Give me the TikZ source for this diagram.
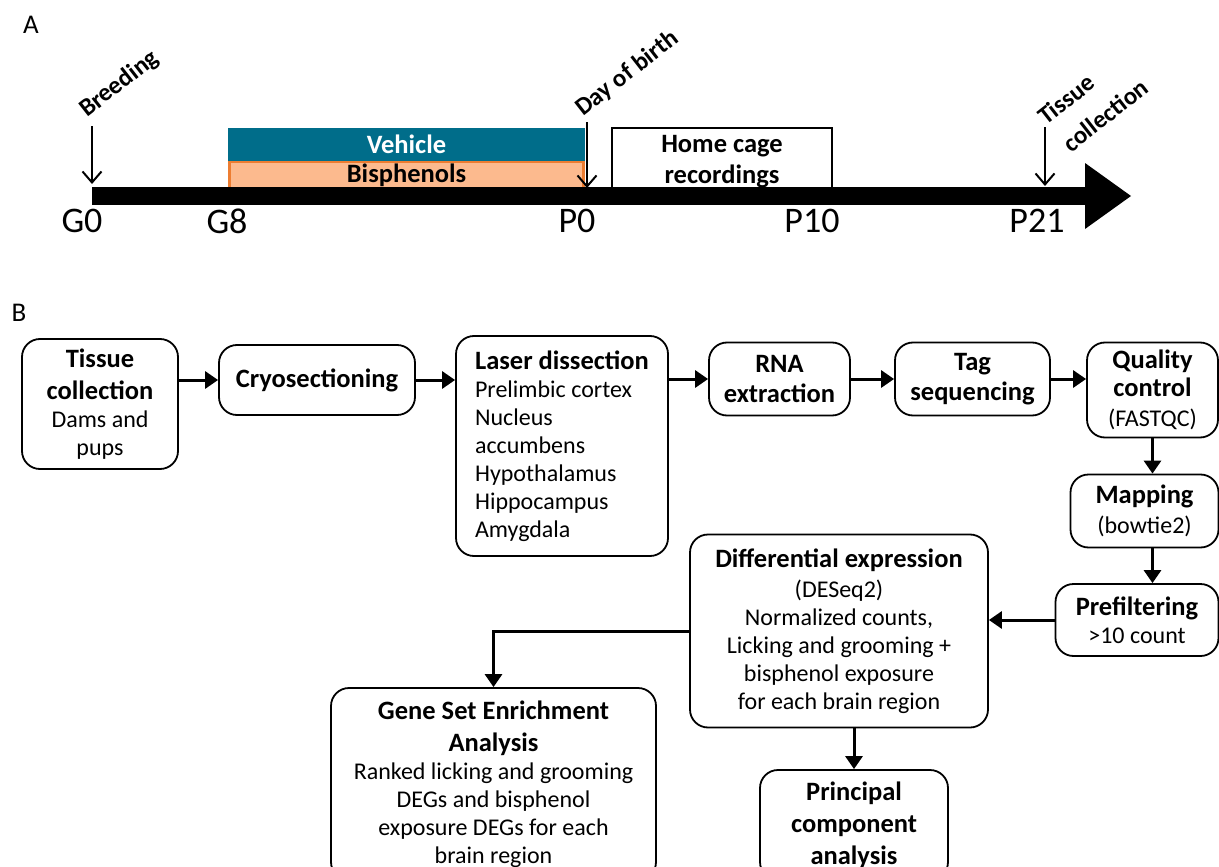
\documentclass[tikz,border=0pt]{standalone}
\usepackage{fontspec}
\setmainfont{Carlito}
\usetikzlibrary{arrows.meta}
\definecolor{vehteal}{RGB}{0,109,138}
\definecolor{bispeach}{RGB}{252,186,142}
\definecolor{bisorange}{RGB}{237,125,49}
\newcommand{\fsn}{\fontsize{24}{28}\selectfont}
\newcommand{\fsb}{\fontsize{26.5}{28}\selectfont\bfseries}
\newcommand{\bt}[1]{{\fsb #1}}
\newcommand{\fstick}{\fontsize{36}{40}\selectfont}
\begin{document}
\begin{tikzpicture}[x=1pt,y=-1pt,
  box/.style={draw, line width=1.8pt, rounded corners=18pt, fill=white, align=center, inner sep=0pt, font=\fsn},
  arr/.style={line width=3pt, -{Triangle[length=13pt,width=17pt]}},
  tarr/.style={line width=2pt, -{Straight Barb[length=11pt,width=19pt,line width=2pt]}},
  tick/.style={font=\fstick, anchor=center},
  rlab/.style={font=\fontsize{25}{30}\selectfont\bfseries, rotate=38, inner sep=0pt, align=left}
]
\useasboundingbox (0,0) rectangle (1219,867);
% ---------------- Panel A ----------------
\node[font=\fontsize{27}{30}\selectfont] (labA) at (31,25) {A};
\node[draw, line width=1.8pt, fill=white, minimum width=220pt, minimum height=68pt, inner sep=0pt,
      align=center, font=\fsb] (home) at (722,162) {Home cage\\[3pt]recordings};
\node[fill=bispeach, draw=bisorange, line width=3pt, minimum width=354pt, minimum height=28pt, inner sep=0pt,
      font=\fsb] (bis) at (406.5,175) {Bisphenols};
\node[fill=vehteal, minimum width=357pt, minimum height=33pt, inner sep=0pt, text=white,
      font=\fsb] (veh) at (406.5,144) {Vehicle};
\coordinate (bar0) at (92,196);
\coordinate (barend) at (1131,196);
\fill (92,187) rectangle (1087,205);
\fill (1085,163) -- (barend) -- (1085,229) -- cycle;
% arrows and rotated labels
\coordinate (brA) at (92,126); \coordinate (brB) at (92,184);
\draw[tarr] (brA) -- (brB);
\node[rlab, anchor=base west] (breeding) at (87,118) {Breeding};
\coordinate (dbA) at (587,122); \coordinate (dbB) at (587,188);
\draw[tarr] (dbA) -- (dbB);
\node[rlab, anchor=base west] (dob) at (583,117) {Day of birth};
\coordinate (tcA) at (1045,127); \coordinate (tcB) at (1045,186);
\draw[tarr] (tcA) -- (tcB);
\node[rlab, anchor=north west] (tcoll) at (1035,112) {Tissue\\[7pt]\hspace*{3pt}collection};
% tick labels
\node[tick] (g0) at (82,221) {G0};
\node[tick] (g8) at (227,221) {G8};
\node[tick] (p0) at (577,221) {P0};
\node[tick] (p10) at (812,221) {P10};
\node[tick] (p21) at (1037,221) {P21};
% ---------------- Panel B ----------------
\node[font=\fontsize{27}{30}\selectfont] (labB) at (19,313) {B};
\node[box, minimum width=156pt, minimum height=130pt] (tc) at (100,404)
  {\bt{Tissue}\\[4pt]\bt{collection}\\Dams and\\pups};
\node[box, minimum width=196pt, minimum height=70pt, font=\fsb] (cryo) at (317,380) {Cryosectioning};
\node[box, minimum width=212pt, minimum height=220pt, align=left] (laser) at (562,446)
  {\bt{Laser dissection}\\Prelimbic cortex\\Nucleus\\accumbens\\Hypothalamus\\Hippocampus\\Amygdala};
\node[box, minimum width=141pt, minimum height=73pt, font=\fsb] (rna) at (779.5,379) {RNA\\[2pt]extraction};
\node[box, minimum width=155pt, minimum height=73pt, font=\fsb] (tag) at (972.5,379) {Tag\\[2pt]sequencing};
\node[box, minimum width=131pt, minimum height=95pt] (qc) at (1152.5,390)
  {\bt{Quality}\\\bt{control}\\[2pt](FASTQC)};
\node[box, minimum width=148pt, minimum height=73pt] (map) at (1144.5,511)
  {\bt{Mapping}\\[2pt](bowtie2)};
\node[box, minimum width=163pt, minimum height=72pt] (pre) at (1137,620)
  {\bt{Prefiltering}\\>10 count};
\node[box, minimum width=298pt, minimum height=193pt] (de) at (839,631)
  {\bt{Differential expression}\\[2pt](DESeq2)\\Normalized counts,\\Licking and grooming +\\bisphenol exposure\\for each brain region};
\node[box, minimum width=325pt, minimum height=192pt] (gsea) at (493.5,784)
  {\bt{Gene Set Enrichment}\\[4pt]\bt{Analysis}\\Ranked licking and grooming\\DEGs and bisphenol\\exposure DEGs for each\\brain region};
\node[box, minimum width=188pt, minimum height=110pt, font=\fsb] (pca) at (854,825)
  {Principal\\[4pt]component\\[4pt]analysis};
% connectors
\draw[arr] (tc.east |- cryo.west) -- (cryo.west);
\draw[arr] (cryo.east) -- (cryo.east -| laser.west);
\draw[arr] (laser.east |- rna.west) -- (rna.west);
\draw[arr] (rna.east) -- (tag.west);
\draw[arr] (tag.east) -- (tag.east -| qc.west);
\draw[arr] (qc.south) -- (qc.south |- map.north);
\draw[arr] (qc.south |- map.south) -- (qc.south |- pre.north);
\draw[arr] (pre.west) -- (pre.west -| de.east);
\draw[arr] (de.west) -| (gsea.north);
\draw[arr] (pca.north |- de.south) -- (pca.north);
\end{tikzpicture}
\end{document}
